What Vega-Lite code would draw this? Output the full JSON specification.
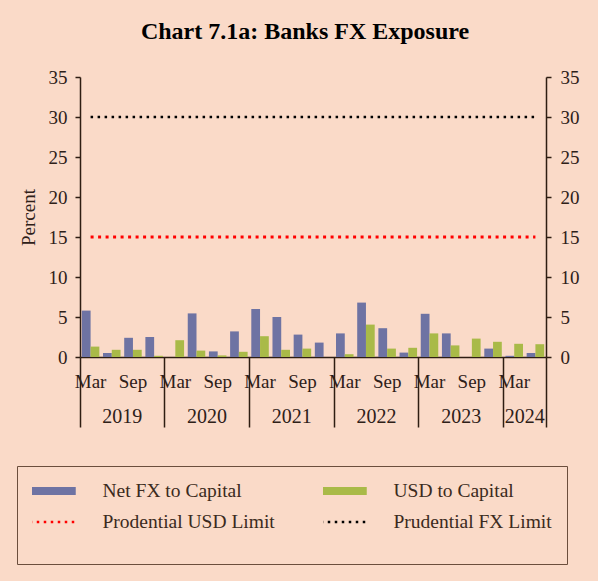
{
  "$schema": "https://vega.github.io/schema/vega-lite/v6.json",
  "width": 466,
  "height": 280,
  "autosize": "none",
  "padding": {"left": 80, "top": 77, "right": 52, "bottom": 224},
  "background": "#FADAC8",
  "title": {"text": "Chart 7.1a: Banks FX Exposure", "font": "Liberation Serif", "fontSize": 24, "fontWeight": "bold", "color": "#000000", "anchor": "middle", "frame": "group", "offset": 5, "baseline": "alphabetic", "dx": -8},
  "config": {
    "view": {"stroke": null},
    "axis": {"grid": false, "labelFont": "Liberation Serif", "labelFontSize": 19, "labelColor": "#2e2018", "domainColor": "#2e1d12", "tickColor": "#2e1d12", "domainWidth": 1.5, "tickWidth": 1.5, "titleFont": "Liberation Serif", "titleFontSize": 19, "titleFontWeight": "normal", "titleColor": "#2e2018"}
  },
  "datasets": {
    "bars": [
      {"q": "2019Q1", "series": "Net FX to Capital", "value": 5.8}, {"q": "2019Q1", "series": "USD to Capital", "value": 1.3},
      {"q": "2019Q2", "series": "Net FX to Capital", "value": 0.5}, {"q": "2019Q2", "series": "USD to Capital", "value": 0.9},
      {"q": "2019Q3", "series": "Net FX to Capital", "value": 2.4}, {"q": "2019Q3", "series": "USD to Capital", "value": 0.9},
      {"q": "2019Q4", "series": "Net FX to Capital", "value": 2.5}, {"q": "2019Q4", "series": "USD to Capital", "value": 0.15},
      {"q": "2020Q1", "series": "Net FX to Capital", "value": 0}, {"q": "2020Q1", "series": "USD to Capital", "value": 2.1},
      {"q": "2020Q2", "series": "Net FX to Capital", "value": 5.45}, {"q": "2020Q2", "series": "USD to Capital", "value": 0.8},
      {"q": "2020Q3", "series": "Net FX to Capital", "value": 0.7}, {"q": "2020Q3", "series": "USD to Capital", "value": 0.2},
      {"q": "2020Q4", "series": "Net FX to Capital", "value": 3.2}, {"q": "2020Q4", "series": "USD to Capital", "value": 0.65},
      {"q": "2021Q1", "series": "Net FX to Capital", "value": 6.0}, {"q": "2021Q1", "series": "USD to Capital", "value": 2.6},
      {"q": "2021Q2", "series": "Net FX to Capital", "value": 5.0}, {"q": "2021Q2", "series": "USD to Capital", "value": 0.9},
      {"q": "2021Q3", "series": "Net FX to Capital", "value": 2.8}, {"q": "2021Q3", "series": "USD to Capital", "value": 1.05},
      {"q": "2021Q4", "series": "Net FX to Capital", "value": 1.8}, {"q": "2021Q4", "series": "USD to Capital", "value": 0},
      {"q": "2022Q1", "series": "Net FX to Capital", "value": 2.95}, {"q": "2022Q1", "series": "USD to Capital", "value": 0.35},
      {"q": "2022Q2", "series": "Net FX to Capital", "value": 6.8}, {"q": "2022Q2", "series": "USD to Capital", "value": 4.05},
      {"q": "2022Q3", "series": "Net FX to Capital", "value": 3.6}, {"q": "2022Q3", "series": "USD to Capital", "value": 1.05},
      {"q": "2022Q4", "series": "Net FX to Capital", "value": 0.55}, {"q": "2022Q4", "series": "USD to Capital", "value": 1.15},
      {"q": "2023Q1", "series": "Net FX to Capital", "value": 5.4}, {"q": "2023Q1", "series": "USD to Capital", "value": 2.95},
      {"q": "2023Q2", "series": "Net FX to Capital", "value": 2.95}, {"q": "2023Q2", "series": "USD to Capital", "value": 1.45},
      {"q": "2023Q3", "series": "Net FX to Capital", "value": 0}, {"q": "2023Q3", "series": "USD to Capital", "value": 2.3},
      {"q": "2023Q4", "series": "Net FX to Capital", "value": 1.05}, {"q": "2023Q4", "series": "USD to Capital", "value": 1.9},
      {"q": "2024Q1", "series": "Net FX to Capital", "value": 0.15}, {"q": "2024Q1", "series": "USD to Capital", "value": 1.65},
      {"q": "2024Q2", "series": "Net FX to Capital", "value": 0.5}, {"q": "2024Q2", "series": "USD to Capital", "value": 1.6}
    ],
    "limits": [
      {"q": "2019Q1", "series": "Prodential USD Limit", "value": 15}, {"q": "2024Q2", "series": "Prodential USD Limit", "value": 15},
      {"q": "2019Q1", "series": "Prudential FX Limit", "value": 30}, {"q": "2024Q2", "series": "Prudential FX Limit", "value": 30}
    ]
  },
  "layer": [
    {
      "data": {"name": "bars"},
      "transform": [{"filter": "datum.series === 'Net FX to Capital'"}],
      "mark": {"type": "bar"},
      "encoding": {
        "x": {"field": "q", "type": "nominal", "scale": {"padding": 0, "align": 0}, "axis": {"orient": "bottom", "title": null, "values": ["2024Q2"], "bandPosition": 1, "tickSize": 70, "labels": false, "domain": true}},
        "xOffset": {"field": "series", "type": "nominal", "scale": {"domain": ["Net FX to Capital", "USD to Capital"], "paddingInner": 0, "paddingOuter": 0.21}},
        "y": {"field": "value", "type": "quantitative", "scale": {"domain": [0, 35], "nice": false}, "axis": {"orient": "left", "title": "Percent", "values": [0, 5, 10, 15, 20, 25, 30, 35], "tickSize": 5, "labelPadding": 8, "titlePadding": 10}},
        "color": {"field": "series", "type": "nominal", "scale": {"domain": ["Net FX to Capital", "USD to Capital", "Prodential USD Limit", "Prudential FX Limit"], "range": ["#6E73A3", "#A9BA48", "#FF0000", "#000000"]},
          "legend": {"orient": "none", "legendX": -63, "legendY": 389, "direction": "horizontal", "columns": 2, "title": " ", "titleOrient": "bottom", "titleFontSize": 12, "titlePadding": 6, "padding": 15, "strokeColor": "#6b4e3d", "clipHeight": 20, "rowPadding": 11, "columnPadding": 48, "symbolOffset": 4, "labelOffset": 47, "labelFont": "Liberation Serif", "labelFontSize": 19.5, "labelColor": "#3b2a20", "labelLimit": 400, "symbolSize": 3600,
            "encode": {"symbols": {"update": {
              "shape": {"signal": "(datum.value === 'Net FX to Capital' || datum.value === 'USD to Capital') ? 'M-1,-0.13H1V0.13H-1Z' : 'M-1,0H1'"},
              "fill": {"signal": "datum.value === 'Net FX to Capital' ? '#6E73A3' : datum.value === 'USD to Capital' ? '#A9BA48' : 'transparent'"},
              "stroke": {"signal": "datum.value === 'Prodential USD Limit' ? '#FF0000' : datum.value === 'Prudential FX Limit' ? '#000000' : 'transparent'"},
              "strokeWidth": {"signal": "(datum.value === 'Net FX to Capital' || datum.value === 'USD to Capital') ? 0 : 2.5"},
              "strokeDash": {"signal": "(datum.value === 'Net FX to Capital' || datum.value === 'USD to Capital') ? [] : [2.5, 4.5]"},
              "size": {"value": 3600},
              "opacity": {"value": 1},
              "fillOpacity": {"value": 1},
              "strokeOpacity": {"value": 1}
            }}}}
        }
      }
    },
    {
      "data": {"name": "bars"},
      "transform": [{"filter": "datum.series === 'USD to Capital'"}],
      "mark": {"type": "bar"},
      "encoding": {
        "x": {"field": "q", "type": "nominal", "axis": {"orient": "bottom", "title": null, "values": ["2019Q1", "2020Q1", "2021Q1", "2022Q1", "2023Q1", "2024Q1"], "bandPosition": 0, "tickSize": 70, "labels": false, "domain": false}},
        "xOffset": {"field": "series", "type": "nominal"},
        "y": {"field": "value", "type": "quantitative", "axis": {"orient": "right", "title": null, "values": [0, 5, 10, 15, 20, 25, 30, 35], "tickSize": 5, "labelPadding": 9}},
        "color": {"field": "series", "type": "nominal"}
      }
    },
    {
      "data": {"name": "limits"},
      "transform": [{"filter": "datum.series === 'Prodential USD Limit'"}],
      "mark": {"type": "line", "strokeDash": [3, 4.5], "strokeWidth": 3},
      "encoding": {
        "x": {"field": "q", "type": "nominal", "axis": {"orient": "bottom", "title": null, "values": ["2019Q2", "2020Q2", "2021Q2", "2022Q2", "2023Q2", "2024Q1"], "labelExpr": "substring(datum.value, 0, 4)", "labelOffset": 10.6, "ticks": false, "domain": false, "labelPadding": 49, "labelFontSize": 20, "labelAngle": 0}},
        "y": {"field": "value", "type": "quantitative", "axis": null},
        "color": {"field": "series", "type": "nominal"}
      }
    },
    {
      "data": {"name": "limits"},
      "transform": [{"filter": "datum.series === 'Prudential FX Limit'"}],
      "mark": {"type": "line", "strokeDash": [2.5, 4.5], "strokeWidth": 2.5},
      "encoding": {
        "x": {"field": "q", "type": "nominal", "axis": {"orient": "bottom", "title": null, "values": ["2019Q1", "2019Q3", "2020Q1", "2020Q3", "2021Q1", "2021Q3", "2022Q1", "2022Q3", "2023Q1", "2023Q3", "2024Q1"], "labelExpr": "substring(datum.value, 5, 6) === '1' ? 'Mar' : 'Sep'", "ticks": false, "domain": false, "labelPadding": 15, "labelAngle": 0, "labelOverlap": false, "labelBound": false, "labelFlush": false}},
        "y": {"field": "value", "type": "quantitative", "axis": null},
        "color": {"field": "series", "type": "nominal"}
      }
    }
  ],
  "resolve": {"axis": {"x": "independent", "y": "independent"}}
}
